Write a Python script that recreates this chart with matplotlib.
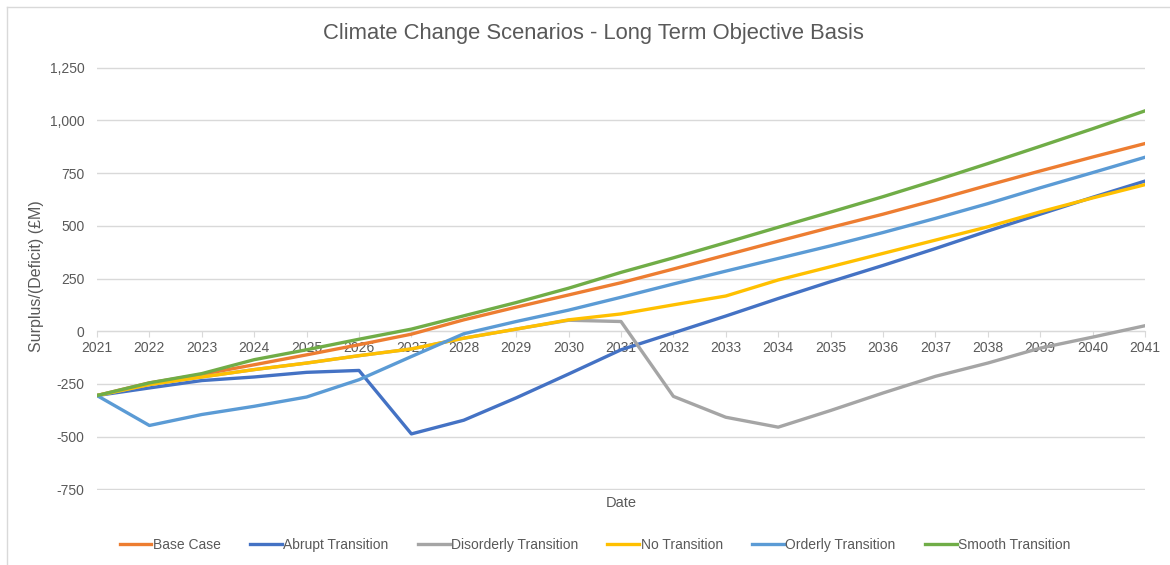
import matplotlib.pyplot as plt
from matplotlib.lines import Line2D
from matplotlib.ticker import FuncFormatter

plt.rcParams['font.family'] = ['Liberation Sans', 'DejaVu Sans']

years = list(range(2021, 2042))

base_case = [-305, -245, -205, -159, -112, -64, -14, 54, 114, 172, 230,
             295, 361, 427, 492, 555, 622, 692, 760, 826, 890]
abrupt = [-305, -269, -234, -217, -195, -186, -487, -422, -316, -203, -88,
          -8, 72, 155, 235, 312, 392, 475, 555, 635, 712]
disorderly = [-305, -253, -217, -182, -151, -116, -84, -33, 10, 52, 46,
              -309, -408, -455, -376, -293, -214, -151, -80, -28, 26]
no_transition = [-305, -253, -217, -182, -151, -116, -84, -33, 10, 54, 82,
                 125, 167, 243, 306, 369, 432, 495, 566, 632, 695]
orderly = [-305, -447, -395, -356, -312, -230, -120, -12, 46, 100, 161,
           224, 285, 345, 405, 468, 535, 605, 680, 752, 825]
smooth = [-305, -245, -201, -135, -88, -38, 10, 73, 136, 204, 279,
          348, 420, 493, 565, 638, 715, 795, 877, 960, 1045]

series = [
    ('Base Case', base_case, '#ED7D31'),
    ('Abrupt Transition', abrupt, '#4472C4'),
    ('Disorderly Transition', disorderly, '#A5A5A5'),
    ('No Transition', no_transition, '#FFC000'),
    ('Orderly Transition', orderly, '#5B9BD5'),
    ('Smooth Transition', smooth, '#70AD47'),
]

text_col = '#595959'
grid_col = '#D9D9D9'

fig = plt.figure(figsize=(11.7, 5.65), dpi=100)
ax = fig.add_axes([97 / 1170, 1 - 490 / 565, (1145 - 97) / 1170, (490 - 67) / 565])

for name, vals, col in series:
    ax.plot(years, vals, color=col, lw=2.4, label=name, solid_joinstyle='round')

ax.set_xlim(2021, 2041)
ax.set_ylim(-753, 1253)
ax.set_yticks(range(-750, 1251, 250))
ax.set_xticks(years)
ax.yaxis.set_major_formatter(FuncFormatter(lambda v, p: f'{int(v):,}'))
ax.grid(axis='y', color=grid_col, lw=1)
ax.set_axisbelow(True)

for s in ['top', 'right', 'left']:
    ax.spines[s].set_visible(False)
ax.spines['bottom'].set_position(('data', 0))
ax.spines['bottom'].set_color(grid_col)
ax.spines['bottom'].set_zorder(1)

ax.tick_params(axis='y', length=0, pad=9, labelsize=10, labelcolor=text_col)
ax.tick_params(axis='x', length=4, color=grid_col, pad=3, labelsize=10,
               labelcolor=text_col)
for lbl in ax.get_xticklabels():
    lbl.set_zorder(0)

fig.text(37 / 1170, 1 - 276 / 565, 'Surplus/(Deficit) (£M)', rotation=90,
         ha='center', va='center', fontsize=11.5, color=text_col)
ax.text(0.5, -0.031, 'Date', transform=ax.transAxes, ha='center', va='center',
        fontsize=10.5, color=text_col)

fig.text(593 / 1170, 1 - 33 / 565, 'Climate Change Scenarios - Long Term Objective Basis',
         ha='center', va='center', fontsize=15.8, color=text_col)

ax.legend(loc='center', bbox_to_anchor=(595 / 1170, 1 - 545 / 565),
          bbox_transform=fig.transFigure, ncol=6, frameon=False, fontsize=10,
          handlelength=2.3, handletextpad=0.1, columnspacing=2.1,
          labelcolor=text_col)

# chart area border (left and top only visible)
fig.add_artist(Line2D([7 / 1170, 7 / 1170], [0, 1 - 7 / 565], color=grid_col,
                      lw=1, transform=fig.transFigure))
fig.add_artist(Line2D([7 / 1170, 1], [1 - 7 / 565, 1 - 7 / 565], color=grid_col,
                      lw=1, transform=fig.transFigure))

fig.savefig('out.png', dpi=100)
